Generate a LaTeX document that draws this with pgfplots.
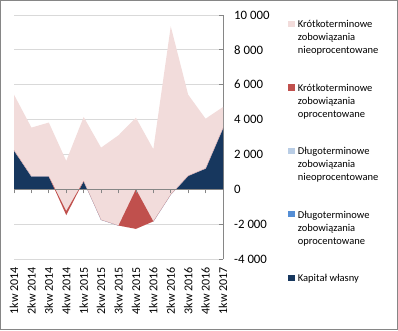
\documentclass[border=0pt]{standalone}
\usepackage{fontspec}
\setmainfont{Carlito}
\usepackage{pgfplots}
\pgfplotsset{compat=1.18}
\usepgfplotslibrary{fillbetween}
\usepackage{pgfplotstable}

\definecolor{pinkA}{HTML}{F2DCDB}
\definecolor{redA}{HTML}{C0504D}
\definecolor{lblueA}{HTML}{B9CDE5}
\definecolor{mblueA}{HTML}{558ED5}
\definecolor{navyA}{HTML}{17375E}
\definecolor{axgray}{HTML}{868686}
\definecolor{gridgray}{HTML}{D9D9D9}

% x: quarter index; K: Kapital wlasny (cumulative base);
% C: K + kr. oprocentowane; U: top of kr. nieoprocentowane; Z: zero line
\pgfplotstableread{
x K C U Z
0 2240 2240 5430 0
1 750 750 3540 0
2 750 750 3830 0
3 -1250 -1480 1630 0
4 480 480 4150 0
5 -1750 -1750 2390 0
6 -2080 -2080 3100 0
7 0 -2270 4110 0
8 -1840 -1840 2300 0
9 -300 -300 9350 0
10 780 780 5430 0
11 1200 1200 4050 0
12 3520 3520 4720 0
}\data

\newcommand\lgl[1]{\rule{0pt}{9.1pt}#1}
\newcommand\lgsp{\rule{0pt}{20.5pt}}

\begin{document}
\begin{tikzpicture}
\draw[axgray, line width=1pt] (0.5pt,0.5pt) rectangle (397.5pt,329.5pt);
\begin{axis}[
  set layers,
  at={(14pt,71pt)}, anchor=south west,
  scale only axis, width=209pt, height=244pt,
  xmin=0, xmax=12, ymin=-4000, ymax=10000,
  axis y line*=right, axis x line*=bottom,
  x axis line style={draw=none},
  y axis line style={axgray, line width=0.8pt},
  xtick={0,...,12},
  xticklabels={1kw 2014,2kw 2014,3kw 2014,4kw 2014,1kw 2015,2kw 2015,3kw 2015,4kw 2015,1kw 2016,2kw 2016,3kw 2016,4kw 2016,1kw 2017},
  xtick style={draw=none},
  xticklabel style={rotate=90, anchor=east, inner sep=0pt, font=\fontsize{12}{14}\selectfont},
  xticklabel shift=8pt,
  ytick={-4000,-2000,...,10000},
  scaled y ticks=false,
  ytick style={axgray, line width=0.8pt},
  major tick length=4pt,
  yticklabel style={anchor=west, inner sep=0pt, font=\fontsize{12.8}{14}\selectfont,
    /pgf/number format/1000 sep={\ }, /pgf/number format/assume math mode=true},
  yticklabel shift=11pt,
  ymajorgrids, grid style={gridgray, line width=0.8pt},
  legend style={at={(1.311,0.985)}, anchor=north west, draw=none, fill=none,
    inner sep=0pt, row sep=0pt, column sep=3.2pt,
    font=\fontsize{10.5}{13}\selectfont, cells={anchor=base west},
    nodes={inner sep=0pt, text depth=3.9pt}},
  legend image code/.code={\fill[#1] (0pt,0.7pt) rectangle (6.5pt,6.9pt);},
]
\addplot[draw=none, name path=Z, forget plot] table[x=x,y=Z]{\data};
\addplot[draw=none, name path=K, forget plot] table[x=x,y=K]{\data};
\addplot[draw=none, name path=C, forget plot] table[x=x,y=C]{\data};
\addplot[draw=none, name path=U, forget plot] table[x=x,y=U]{\data};
\addplot[fill=navyA, draw=none, forget plot] fill between[of=Z and K];
\addplot[lblueA, line width=0.6pt, on layer=pre main, forget plot] table[x=x,y=K]{\data};
\addplot[fill=pinkA, draw=none, forget plot] fill between[of=C and U];
\addplot[fill=redA, draw=none, forget plot] fill between[of=K and C];

\addlegendimage{fill=pinkA, draw=none}\addlegendentry{\lgl{Krótkoterminowe}}
\addlegendimage{empty legend}\addlegendentry{\lgl{zobowiązania}}
\addlegendimage{empty legend}\addlegendentry{\lgl{nieoprocentowane}}
\addlegendimage{empty legend}\addlegendentry{\lgsp}
\addlegendimage{fill=redA, draw=none}\addlegendentry{\lgl{Krótkoterminowe}}
\addlegendimage{empty legend}\addlegendentry{\lgl{zobowiązania}}
\addlegendimage{empty legend}\addlegendentry{\lgl{oprocentowane}}
\addlegendimage{empty legend}\addlegendentry{\lgsp}
\addlegendimage{fill=lblueA, draw=none}\addlegendentry{\lgl{Długoterminowe}}
\addlegendimage{empty legend}\addlegendentry{\lgl{zobowiązania}}
\addlegendimage{empty legend}\addlegendentry{\lgl{nieoprocentowane}}
\addlegendimage{empty legend}\addlegendentry{\lgsp}
\addlegendimage{fill=mblueA, draw=none}\addlegendentry{\lgl{Długoterminowe}}
\addlegendimage{empty legend}\addlegendentry{\lgl{zobowiązania}}
\addlegendimage{empty legend}\addlegendentry{\lgl{oprocentowane}}
\addlegendimage{empty legend}\addlegendentry{\lgsp}
\addlegendimage{fill=navyA, draw=none}\addlegendentry{\lgl{Kapitał własny}}
\end{axis}
\begin{axis}[
  at={(14pt,71pt)}, anchor=south west,
  scale only axis, width=209pt, height=244pt,
  xmin=0, xmax=12, ymin=-4000, ymax=10000,
  axis x line=middle, axis y line=none,
  xtick={0,...,12}, xticklabel={\mbox{}}, ytick=\empty,
  x axis line style={-, axgray, line width=0.8pt},
  xtick style={axgray, line width=0.8pt},
  major tick length=4pt, xtick align=outside,
]
\end{axis}
\end{tikzpicture}
\end{document}
